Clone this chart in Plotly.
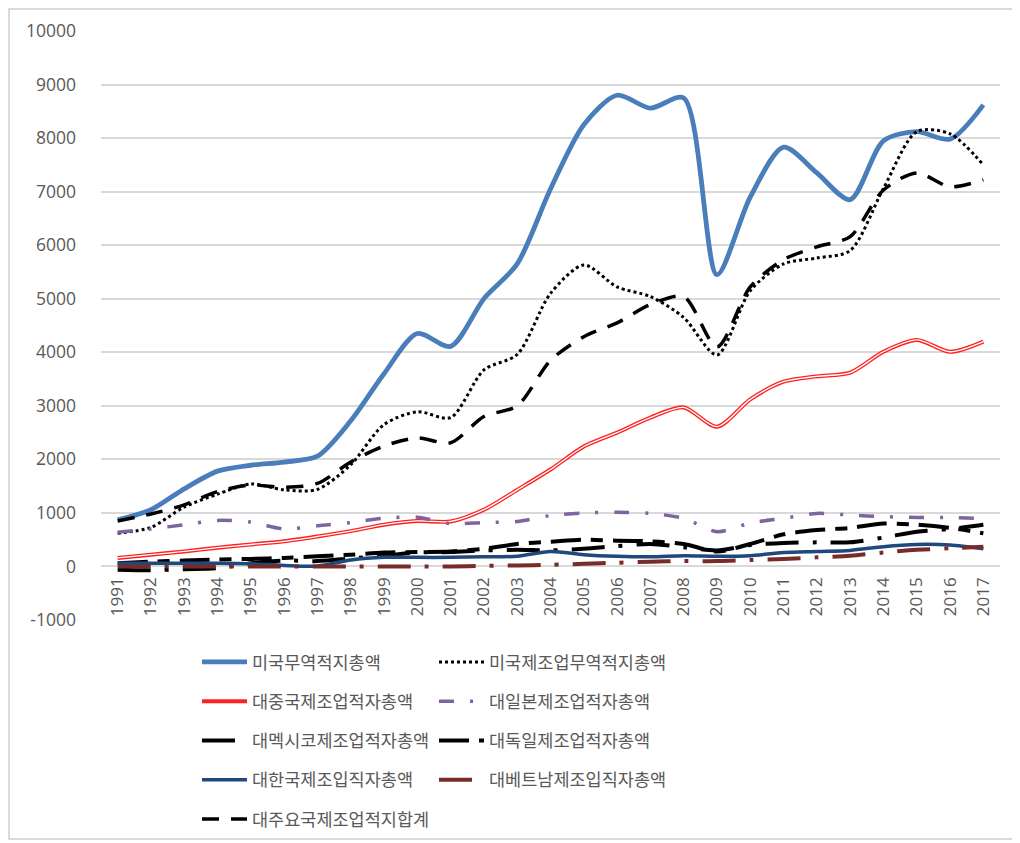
import plotly.graph_objects as go

years = [str(y) for y in range(1991, 2018)]

us_total = [870, 1060, 1450, 1780, 1890, 1950, 2060, 2720, 3600, 4350, 4110, 5000, 5650, 7050, 8250, 8800, 8560, 8750, 5450, 6900, 7830, 7350, 6850, 7950, 8120, 7980, 8620]
us_mfg = [620, 730, 1110, 1350, 1540, 1430, 1440, 1900, 2650, 2890, 2780, 3670, 3960, 5100, 5630, 5220, 5040, 4650, 3950, 5150, 5650, 5760, 5900, 7060, 8120, 8080, 7500]
china = [160, 220, 280, 350, 410, 470, 560, 660, 780, 850, 840, 1060, 1430, 1810, 2240, 2500, 2780, 2970, 2610, 3120, 3450, 3550, 3620, 4010, 4230, 4010, 4200]
japan = [640, 700, 780, 860, 830, 700, 760, 820, 900, 920, 800, 820, 840, 950, 1000, 1010, 990, 900, 650, 810, 900, 990, 960, 930, 915, 915, 890]
mexico = [-60, -70, -50, -30, 60, 110, 100, 150, 200, 260, 270, 300, 310, 300, 330, 380, 420, 360, 300, 400, 440, 450, 450, 540, 650, 700, 780]
germany = [60, 90, 110, 130, 140, 160, 190, 220, 260, 270, 280, 330, 420, 460, 500, 480, 470, 420, 280, 420, 600, 680, 720, 800, 780, 720, 620]
korea = [60, 60, 60, 60, 50, 20, 10, 120, 170, 170, 170, 180, 190, 280, 220, 190, 180, 200, 190, 200, 260, 280, 300, 370, 410, 400, 330]
vietnam = [0, 0, 0, 0, 0, 0, 0, 0, 0, 0, 0, 10, 20, 30, 50, 70, 90, 100, 100, 120, 140, 170, 200, 260, 310, 340, 370]
major_total = [850, 980, 1150, 1400, 1520, 1480, 1550, 1950, 2250, 2400, 2310, 2800, 3000, 3850, 4290, 4550, 4890, 5040, 4100, 5220, 5730, 5970, 6160, 7030, 7350, 7090, 7220]

y_ticks = [-1000, 0, 1000, 2000, 3000, 4000, 5000, 6000, 7000, 8000, 9000, 10000]
y_tick_labels = ["-1000", "0", "1000", "2000", "3000", "4000", "5000", "6000", "7000", "8000", "9000", "10000"]

names = ["미국무역적지총액", "미국제조업무역적지총액", "대중국제조업적자총액", "대일본제조업적자총액",
         "대멕시코제조업적자총액", "대독일제조업적자총액", "대한국제조입직자총액", "대베트남제조입직자총액",
         "대주요국제조업적지합계"]

fig = go.Figure()

def add(y, name, color, width, dash, legend, group):
    fig.add_trace(go.Scatter(
        x=years, y=y, name=name, mode="lines",
        line=dict(color=color, width=width, dash=dash, shape="spline", smoothing=0.8),
        legend=legend, legendgroup=group, hoverinfo="skip"))

add(us_total, names[0], "#4A7EBB", 4.8, "solid", "legend", "g1")
add(us_mfg, names[1], "#000000", 3, "dot", "legend2", "g2")
add(china, names[2], "#FF2020", 4, "solid", "legend", "g3")
# inner white line to simulate the double line
fig.add_trace(go.Scatter(x=years, y=china, mode="lines", showlegend=False,
                         line=dict(color="#FFFFFF", width=1.3, shape="spline", smoothing=0.8),
                         legendgroup="g3", hoverinfo="skip"))
add(japan, names[3], "#8064A2", 3.5, "15px,16px,3px,16px", "legend2", "g4")
add(mexico, names[4], "#000000", 4, "33px,14px,4px,14px", "legend", "g5")
add(germany, names[5], "#000000", 4, "30px,10px,12px,10px", "legend2", "g6")
add(korea, names[6], "#1F497D", 3.5, "solid", "legend", "g7")
add(vietnam, names[7], "#772C2A", 4, "33px,14px,4px,14px", "legend2", "g8")
add(major_total, names[8], "#000000", 3.5, "17px,12px", "legend", "g9")

OFF = 8  # page body margin offset in the screenshot
L, R, T, B = 93, 20, 23, 223
W, H = 1012, 835
pw = W - L - R
ph = H - T - B

def px2x(p):
    return (p - OFF - L) / pw

def px2y(p):
    return (H - B - (p - OFF)) / ph

legend_common = dict(
    orientation="v", xanchor="left", yanchor="top",
    font=dict(family="Noto Sans CJK KR", size=17.5, color="#595959"),
    bgcolor="rgba(0,0,0,0)", borderwidth=0, tracegroupgap=13.5,
    itemwidth=45, traceorder="grouped",
)

fig.update_layout(
    width=W, height=H,
    margin=dict(l=L, r=R, t=T, b=B, autoexpand=False),
    plot_bgcolor="white", paper_bgcolor="white",
    legend=dict(x=px2x(197), y=px2y(644), **legend_common),
    legend2=dict(x=px2x(434), y=px2y(644), **legend_common),
    xaxis=dict(
        type="category", range=[-0.5, 26.5], tickangle=-90,
        tickfont=dict(family="Open Sans", size=17, color="#595959"),
        showgrid=False, showline=False, ticks="", zeroline=False,
        anchor="free", position=px2y(567), ticklabelstandoff=6,
    ),
    yaxis=dict(
        range=[-1000, 10000], tickvals=y_ticks, ticktext=y_tick_labels,
        tickfont=dict(family="Open Sans", size=17.5, color="#595959"),
        showgrid=True, gridcolor="#D9D9D9", gridwidth=1.5,
        zeroline=False, showline=False, ticks="", ticklabelstandoff=24,
    ),
    shapes=[dict(type="rect", xref="paper", yref="paper",
                 x0=px2x(9), x1=px2x(1013), y0=px2y(839), y1=px2y(9),
                 line=dict(color="#D0D0D0", width=1.5), layer="below")],
    showlegend=True,
)

fig.write_html("out.html")
